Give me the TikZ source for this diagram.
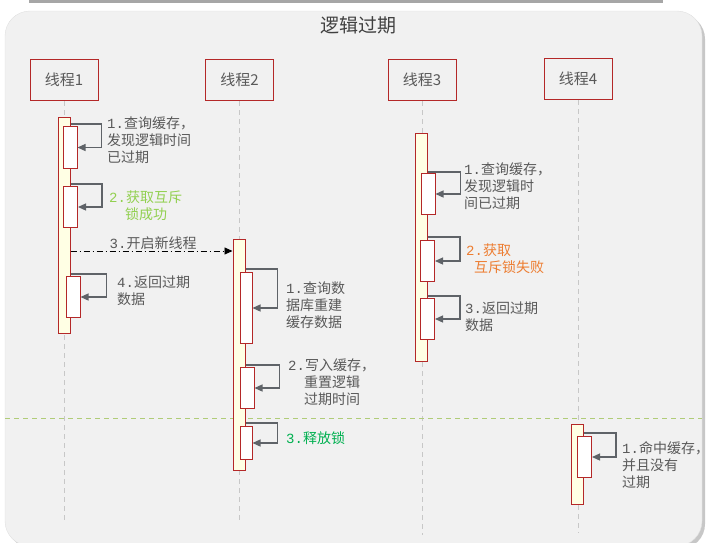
\documentclass[tikz,border=0pt]{standalone}
\usepackage{fontspec}
\setmainfont{Noto Sans CJK SC}
\newfontfamily\numfont{Liberation Mono}
\usetikzlibrary{arrows.meta}
\definecolor{framebg}{RGB}{241,241,241}
\definecolor{boxred}{RGB}{180,40,40}
\definecolor{barfill}{RGB}{255,255,228}
\definecolor{textgray}{RGB}{89,89,89}
\definecolor{arrowgray}{RGB}{95,99,104}
\definecolor{okgreen}{RGB}{146,208,80}
\definecolor{failorange}{RGB}{237,125,49}
\definecolor{lockgreen}{RGB}{0,176,80}
\definecolor{splitgreen}{RGB}{176,204,120}

\begin{document}
\begin{tikzpicture}[x=1pt, y=-1pt, every node/.style={font=\fontsize{14}{17}\selectfont, text=textgray},
  head/.style={draw=boxred, fill=framebg, line width=1pt, minimum width=68pt, minimum height=41pt, font=\fontsize{15}{18}\selectfont},
  actbar/.style={draw=boxred, fill=barfill, line width=1pt, minimum width=12pt, inner sep=0pt, anchor=north},
  subbox/.style={draw=boxred, fill=white, line width=1pt, minimum width=14pt, inner sep=0pt, anchor=north},
  lifeline/.style={draw=black!22, line width=1pt, dash pattern=on 5pt off 4pt},
  selfmsg/.style={draw=arrowgray, line width=1.2pt, -{Triangle[length=8pt,width=7pt]}},
  callmsg/.style={draw=black, line width=0.9pt, dash pattern=on 6pt off 3pt on 1pt off 3pt, -{Triangle[length=8pt,width=7pt]}},
  msglabel/.style={anchor=north west, align=left, inner sep=0pt}]
\useasboundingbox (0,0) rectangle (710,542);

% frame
\fill[black!35] (29,-5) rectangle (663,3);
\fill[black!22,rounded corners=25pt] (8,14) rectangle (705,549);
\filldraw[fill=framebg,draw=black!12,rounded corners=25pt] (5,11) rectangle (702,546);
\node[text=black!75] (title) at (358,25) {\fontsize{19}{22}\selectfont 逻辑过期};

% threads
\node[head] (t1) at (64,80) {线程1};
\node[head] (t2) at (239.5,80) {线程2};
\node[head] (t3) at (422,80) {线程3};
\node[head] (t4) at (578,79) {线程4};
\coordinate (t1end) at (64,523);
\coordinate (t2end) at (239.5,523);
\coordinate (t3end) at (422,535);
\coordinate (t4end) at (578,533);
\draw[lifeline] (t1) -- (t1end);
\draw[lifeline] (t2) -- (t2end);
\draw[lifeline] (t3) -- (t3end);
\draw[lifeline] (t4) -- (t4end);

% divider
\coordinate (divl) at (5,418);
\coordinate (divr) at (702,418);
\draw[splitgreen, line width=1pt, dash pattern=on 5pt off 4pt] (divl) -- (divr);

% activation bars
\node[actbar, minimum height=216pt] (a1) at (64,117) {};
\node[actbar, minimum height=231pt] (a2) at (239,239) {};
\node[actbar, minimum height=228pt] (a3) at (421,133) {};
\node[actbar, minimum height=80pt] (a4) at (577.5,424) {};

\node[subbox, minimum height=42pt] (s11) at (70,126) {};
\node[subbox, minimum height=41pt] (s12) at (70.5,186) {};
\node[subbox, minimum height=41pt] (s14) at (73,276) {};
\node[subbox, minimum height=71pt, minimum width=12pt] (s21) at (246,272) {};
\node[subbox, minimum height=41pt] (s22) at (247,367) {};
\node[subbox, minimum height=33pt, minimum width=12pt] (s23) at (246,426) {};
\node[subbox, minimum height=41pt] (s31) at (428,173) {};
\node[subbox, minimum height=41pt] (s32) at (427.5,240) {};
\node[subbox, minimum height=41pt] (s33) at (427.5,298) {};
\node[subbox, minimum height=41pt] (s41) at (584.5,436) {};

% self messages
\draw[selfmsg] ([yshift=2pt]s11.north -| a1.east) -| ([xshift=24pt]s11.east) -- (s11.east);
\draw[selfmsg] ([yshift=2pt]s12.north -| a1.east) -| ([xshift=24pt]s12.east) -- (s12.east);
\draw[selfmsg] ([yshift=2pt]s14.north -| a1.east) -| ([xshift=26pt]s14.east) -- (s14.east);
\draw[selfmsg] ([yshift=3pt]s21.north -| a2.east) -| ([xshift=25pt]s21.east) -- (s21.east);
\draw[selfmsg] ([yshift=2pt]s22.north -| a2.east) -| ([xshift=25pt]s22.east) -- (s22.east);
\draw[selfmsg] ([yshift=3pt]s23.north -| a2.east) -| ([xshift=25pt]s23.east) -- (s23.east);
\draw[selfmsg] ([yshift=1pt]s31.north -| a3.east) -| ([xshift=25pt]s31.east) -- (s31.east);
\draw[selfmsg] ([yshift=3pt]s32.north -| a3.east) -| ([xshift=25pt]s32.east) -- (s32.east);
\draw[selfmsg] ([yshift=2pt]s33.north -| a3.east) -| ([xshift=25pt]s33.east) -- (s33.east);
\draw[selfmsg] ([yshift=3pt]s41.north -| a4.east) -| ([xshift=24pt]s41.east) -- (s41.east);

% call to thread 2
\draw[callmsg] (a1.east |- 0,251) -- node[above=1pt, inner sep=0pt, pos=0.51] (m13) {{\numfont 3.}开启新线程} (a2.west |- 0,251);

% labels
\node[msglabel] (l11) at (107,117) {{\numfont 1.}查询缓存，\\发现逻辑时间\\已过期};
\node[msglabel, text=okgreen] (l12) at (109,191) {{\numfont 2.}获取互斥\\\hspace*{16pt}锁成功};
\node[msglabel] (l14) at (117,276) {{\numfont 4.}返回过期\\数据};
\node[msglabel] (l21) at (286,282) {{\numfont 1.}查询数\\据库重建\\缓存数据};
\node[msglabel] (l22) at (288,359) {{\numfont 2.}写入缓存，\\\hspace*{16pt}重置逻辑\\\hspace*{16pt}过期时间};
\node[msglabel, text=lockgreen] (l23) at (286,431) {{\numfont 3.}释放锁};
\node[msglabel] (l31) at (464,163) {{\numfont 1.}查询缓存，\\发现逻辑时\\间已过期};
\node[msglabel, text=failorange] (l32) at (466,244) {{\numfont 2.}获取\\\hspace*{8pt}互斥锁失败};
\node[msglabel] (l33) at (465,302) {{\numfont 3.}返回过期\\数据};
\node[msglabel] (l41) at (622,441) {{\numfont 1.}命中缓存，\\并且没有\\过期};
\end{tikzpicture}
\end{document}
